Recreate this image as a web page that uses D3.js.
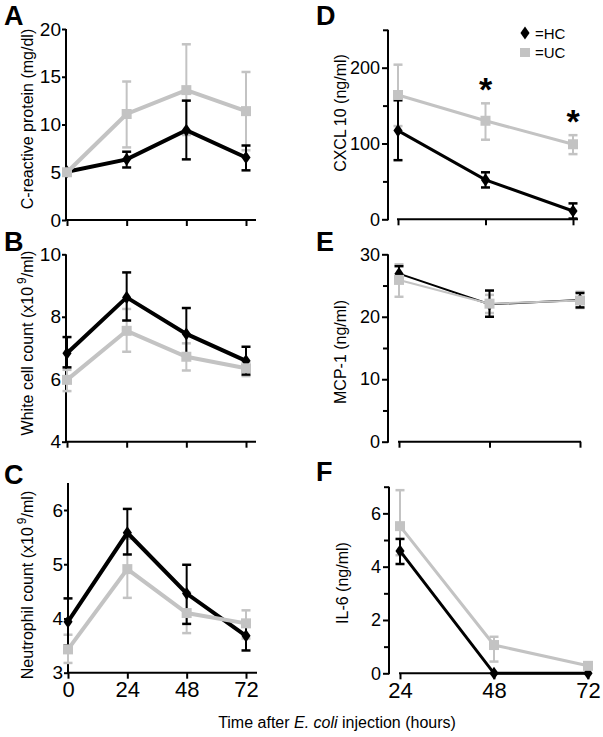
<!DOCTYPE html>
<html><head><meta charset="utf-8">
<script src="https://cdn.jsdelivr.net/npm/d3@7"></script>
<style>body{margin:0;background:#fff} svg{display:block} text{font-family:Arial,"Liberation Sans",Helvetica,sans-serif;fill:#000}</style>
</head><body><svg id="c" width="603" height="737"></svg>
<script>
// ---------- data ----------
const hoursAll = [0, 24, 48, 72];
const hoursLate = [24, 48, 72];
const seriesNames = ["=HC", "=UC"];

// A: C-reactive protein (mg/dl)
const crpHC = [5.05, 6.35, 9.4, 6.55], crpHCLo = [5.05, 5.5, 6.35, 5.2], crpHCHi = [5.05, 7.15, 12.5, 7.8];
const crpUC = [5.0, 11.1, 13.6, 11.4], crpUCLo = [5.0, 7.6, 8.9, 7.3], crpUCHi = [5.0, 14.5, 18.4, 15.5];
// B: White cell count
const wbcHC = [6.83, 8.62, 7.45, 6.59], wbcHCLo = [6.38, 7.88, 6.75, 6.15], wbcHCHi = [7.35, 9.42, 8.28, 7.04];
const wbcUC = [5.98, 7.55, 6.72, 6.35], wbcUCLo = [5.62, 6.88, 6.28, 6.1], wbcUCHi = [6.3, 8.25, 7.15, 6.55];
// C: Neutrophil count
const neuHC = [3.94, 5.58, 4.46, 3.68], neuHCLo = [3.5, 5.18, 3.9, 3.41], neuHCHi = [4.37, 6.02, 4.99, 3.95];
const neuUC = [3.43, 4.91, 4.1, 3.91], neuUCLo = [3.18, 4.38, 3.73, 3.63], neuUCHi = [3.7, 5.47, 4.48, 4.15];
// D: CXCL10 (ng/ml)
const cxHC = [117, 52, 11], cxHCLo = [78, 42, 1], cxHCHi = [157, 62, 21];
const cxUC = [164, 130, 99], cxUCLo = [123, 105, 86], cxUCHi = [204, 153, 111];
const cxSignificant = [48, 72];
// E: MCP-1 (ng/ml)
const mcpHC = [26.9, 22.0, 22.7], mcpHCLo = [25.7, 20.0, 21.5], mcpHCHi = [28.1, 24.2, 23.8];
const mcpUC = [25.9, 22.1, 22.6], mcpUCLo = [23.2, 20.6, 21.4], mcpUCHi = [28.4, 23.5, 24.0];
// F: IL-6 (ng/ml)
const il6HC = [4.59, 0, 0], il6HCLo = [4.1, 0, 0], il6HCHi = [5.04, 0, 0];
const il6UC = [5.52, 1.06, 0.28], il6UCLo = [4.43, 0.44, 0.2], il6UCHi = [6.87, 1.37, 0.36];

// tick labels
const ticksA = [0, 5, 10, 15, 20];
const ticksB = [4, 6, 8, 10];
const ticksC = [3, 4, 5, 6];
const ticksD = [0, 100, 200], minorD = [50, 150, 250];
const ticksE = [0, 10, 20, 30], minorE = [5, 15, 25];
const ticksF = [0, 2, 4, 6], minorF = [1, 3, 5, 7];

// ---------- drawing ----------
const svg = d3.select("#c");
const GRAY = "#c3c3c3";
const FONT = "Arial, 'Liberation Sans', sans-serif";

function panel(o) {
  const g = svg.append("g");
  const x = d3.scaleLinear().domain(o.xDom).range(o.xRange);
  const y = d3.scaleLinear().domain(o.yDom).range(o.yRange);
  // y axis
  const yAxis = g.append("g").attr("transform", `translate(${o.yAxisX},0)`)
    .call(d3.axisLeft(y).tickValues(o.yTicks).tickSize(o.yTickLen).tickPadding(o.yPad).tickFormat(d3.format("d")));
  yAxis.select(".domain").remove();
  yAxis.selectAll(".tick line").attr("stroke-width", 2);
  yAxis.selectAll(".tick text").attr("font-size", o.yFont).attr("font-family", FONT);
  if (o.minor) {
    g.append("g").attr("transform", `translate(${o.yAxisX},0)`)
      .call(d3.axisLeft(y).tickValues(o.minor).tickSize(5).tickFormat(""))
      .call(s => { s.select(".domain").remove(); s.selectAll(".tick line").attr("stroke-width", 2); });
  }
  g.append("line").attr("x1", o.yAxisX).attr("x2", o.yAxisX)
    .attr("y1", y(o.yTop)).attr("y2", y(o.yDom[0]) + 1).attr("stroke", "#000").attr("stroke-width", 2);
  // x axis
  const xa = g.append("g").attr("transform", `translate(0,${y(o.yDom[0])})`)
    .call(d3.axisBottom(x).tickValues(o.xTicks).tickSize(6).tickPadding(3)
      .tickFormat(o.xLabels ? d3.format("d") : ""));
  xa.select(".domain").remove();
  xa.selectAll(".tick line").attr("stroke-width", 2);
  xa.selectAll(".tick text").attr("font-size", 22).attr("font-family", FONT);
  g.append("line").attr("x1", o.xAxisStart).attr("x2", o.xAxisEnd)
    .attr("y1", y(o.yDom[0])).attr("y2", y(o.yDom[0])).attr("stroke", "#000").attr("stroke-width", 2);

  const mk = (vals, lo, hi) => o.xVals.map((t, i) => ({ t, v: vals[i], lo: lo[i], hi: hi[i] }));
  const hc = mk(...o.hc), uc = mk(...o.uc);

  function errs(data, color) {
    const eg = g.append("g").attr("stroke", color).attr("stroke-width", 2);
    data.filter(d => d.hi > d.lo).forEach(d => {
      eg.append("line").attr("x1", x(d.t)).attr("x2", x(d.t)).attr("y1", y(d.lo)).attr("y2", y(d.hi));
      [d.lo, d.hi].forEach(v => eg.append("line").attr("x1", x(d.t) - 4.5).attr("x2", x(d.t) + 4.5)
        .attr("y1", y(v)).attr("y2", y(v)).attr("stroke-width", 2.5));
    });
  }
  function line(data, color, w) {
    g.append("path").datum(data).attr("fill", "none").attr("stroke", color).attr("stroke-width", w)
      .attr("stroke-linejoin", "miter")
      .attr("d", d3.line().x(d => x(d.t)).y(d => y(d.v)));
  }
  function diamonds(data) {
    g.selectAll(null).data(data).join("path")
      .attr("d", d3.symbol(d3.symbolDiamond, 55))
      .attr("transform", d => `translate(${x(d.t)},${y(d.v)}) scale(1.15,0.95)`).attr("fill", "#000");
  }
  function squares(data) {
    g.selectAll(null).data(data).join("rect")
      .attr("x", d => x(d.t) - 5).attr("y", d => y(d.v) - 5).attr("width", 10).attr("height", 10).attr("fill", GRAY);
  }
  errs(uc, GRAY); errs(hc, "#000");
  line(hc, "#000", o.lw); diamonds(hc);
  line(uc, GRAY, o.lw); squares(uc);

  // letter
  g.append("text").attr("x", o.letterX).attr("y", o.letterY).attr("font-size", 27).attr("font-weight", "bold").text(o.letter);
  // y title
  const tt = g.append("text").attr("transform", `translate(${o.titleX},${o.titleY}) rotate(-90)`)
    .attr("text-anchor", "middle").attr("font-size", 16);
  o.title(tt);
  return { g, x, y };
}

const simpleTitle = s => t => t.text(s);
const supTitle = (a, b) => t => { t.append("tspan").text(a); t.append("tspan").attr("dy", -7).attr("font-size", 12).attr("dx", 3).text("9"); t.append("tspan").attr("dy", 7).text(b); };

const LEFT = { yFont: 19, yTickLen: 4, yPad: 1, lw: 4 };
const RIGHT = { yFont: 18, yTickLen: 6, yPad: 2, lw: 3 };

panel({ ...LEFT, letter: "A", letterX: 4, letterY: 25, xDom: [0, 72], xRange: [67, 246], xVals: hoursAll, xTicks: hoursAll,
  xAxisStart: 66, xAxisEnd: 256, yDom: [0, 20], yRange: [220, 29], yTop: 20, yAxisX: 66, yTicks: ticksA,
  hc: [crpHC, crpHCLo, crpHCHi], uc: [crpUC, crpUCLo, crpUCHi],
  titleX: 33, titleY: 119, title: simpleTitle("C-reactive protein (mg/dl)") });

panel({ ...LEFT, letter: "B", letterX: 4, letterY: 251, xDom: [0, 72], xRange: [67, 246], xVals: hoursAll, xTicks: hoursAll,
  xAxisStart: 66, xAxisEnd: 256, yDom: [4, 10], yRange: [441.7, 254.3], yTop: 10, yAxisX: 66, yTicks: ticksB,
  hc: [wbcHC, wbcHCLo, wbcHCHi], uc: [wbcUC, wbcUCLo, wbcUCHi],
  titleX: 33, titleY: 343, title: supTitle("White cell count (x10", "/ml)") });

panel({ ...LEFT, letter: "C", letterX: 4, letterY: 484, xDom: [0, 72], xRange: [68, 246], xVals: hoursAll, xTicks: hoursAll, xLabels: true,
  xAxisStart: 68, xAxisEnd: 257, yDom: [3, 6], yRange: [672.7, 510], yTop: 6.5, yAxisX: 68, yTicks: ticksC,
  hc: [neuHC, neuHCLo, neuHCHi], uc: [neuUC, neuUCLo, neuUCHi],
  titleX: 33, titleY: 585, title: supTitle("Neutrophil count (x10", "/ml)") });

const D = panel({ ...RIGHT, letter: "D", letterX: 316, letterY: 25, xDom: [24, 72], xRange: [398, 573], xVals: hoursLate, xTicks: hoursLate,
  xAxisStart: 397, xAxisEnd: 578, yDom: [0, 200], yRange: [219.3, 67.7], yTop: 250, yAxisX: 388, yTicks: ticksD, minor: minorD,
  hc: [cxHC, cxHCLo, cxHCHi], uc: [cxUC, cxUCLo, cxUCHi],
  titleX: 346, titleY: 113, title: t => { t.append("tspan").text("CXCL"); t.append("tspan").attr("dx", 3).text("10 (ng/ml)"); } });

panel({ ...RIGHT, letter: "E", letterX: 316, letterY: 251, xDom: [24, 72], xRange: [399, 580], xVals: hoursLate, xTicks: hoursLate,
  xAxisStart: 398, xAxisEnd: 581, yDom: [0, 30], yRange: [441.7, 254.3], yTop: 30, yAxisX: 388, yTicks: ticksE, minor: minorE,
  hc: [mcpHC, mcpHCLo, mcpHCHi], uc: [mcpUC, mcpUCLo, mcpUCHi], lw: 2,
  titleX: 346, titleY: 352, title: simpleTitle("MCP-1 (ng/ml)") });

panel({ ...RIGHT, letter: "F", letterX: 316, letterY: 481, xDom: [24, 72], xRange: [400, 588], xVals: hoursLate, xTicks: hoursLate, xLabels: true,
  xAxisStart: 399, xAxisEnd: 590, yDom: [0, 7], yRange: [673.3, 486.7], yTop: 7, yAxisX: 389, yTicks: ticksF, minor: minorF,
  hc: [il6HC, il6HCLo, il6HCHi], uc: [il6UC, il6UCLo, il6UCHi],
  titleX: 348, titleY: 583, title: simpleTitle("IL-6 (ng/ml)") });

// asterisks on D
D.g.selectAll(null).data(cxSignificant).join("text")
  .attr("x", t => D.x(t)).attr("y", t => D.y(cxUCHi[hoursLate.indexOf(t)]) - 2)
  .attr("text-anchor", "middle").attr("font-size", 34).attr("font-weight", "bold").text("*");

// legend
const lg = svg.append("g");
lg.append("path").attr("d", d3.symbol(d3.symbolDiamond, 55)).attr("transform", "translate(525,33) scale(1.15,0.95)");
lg.append("rect").attr("x", 520).attr("y", 48).attr("width", 10).attr("height", 9).attr("fill", GRAY);
lg.append("text").attr("x", 535).attr("y", 38.5).attr("font-size", 15).text(seriesNames[0]);
lg.append("text").attr("x", 535).attr("y", 58).attr("font-size", 15).text(seriesNames[1]);

// shared x title
const xt = svg.append("text").attr("x", 337).attr("y", 728).attr("text-anchor", "middle").attr("font-size", 16);
xt.append("tspan").text("Time after ");
xt.append("tspan").attr("font-style", "italic").text("E. coli");
xt.append("tspan").text(" injection (hours)");
</script></body></html>
